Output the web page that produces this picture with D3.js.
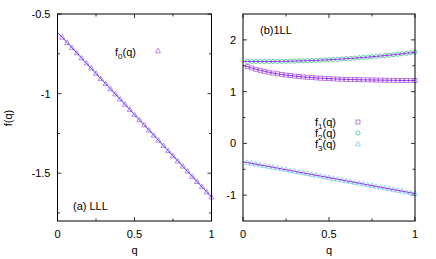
<!DOCTYPE html>
<html><head><meta charset="utf-8">
<script src="https://cdn.jsdelivr.net/npm/d3@7"></script>
<style>body{margin:0;background:#fff}svg{display:block}text{font-family:"Liberation Sans",Arial,sans-serif;fill:#000}</style>
</head><body><svg id="c" width="436" height="259"></svg>
<script>
// ---- data ----
const qLeft = [0.031,0.063,0.094,0.125,0.156,0.188,0.219,0.25,0.281,0.313,0.344,0.375,0.406,0.438,0.469,0.5,0.531,0.563,0.594,0.625,0.656,0.688,0.719,0.75,0.781,0.813,0.844,0.875,0.906,0.938,0.969,1];
const f0 = [-0.647,-0.680,-0.712,-0.744,-0.777,-0.809,-0.841,-0.874,-0.906,-0.938,-0.971,-1.003,-1.035,-1.068,-1.100,-1.133,-1.165,-1.197,-1.230,-1.262,-1.294,-1.327,-1.359,-1.391,-1.424,-1.456,-1.488,-1.521,-1.553,-1.585,-1.618,-1.650];
const fitQ0 = [0, 1];
const fit0 = [-0.615, -1.650];

const qRight = [0,0.025,0.05,0.075,0.1,0.125,0.15,0.175,0.2,0.225,0.25,0.275,0.3,0.325,0.35,0.375,0.4,0.425,0.45,0.475,0.5,0.525,0.55,0.575,0.6,0.625,0.65,0.675,0.7,0.725,0.75,0.775,0.8,0.825,0.85,0.875,0.9,0.925,0.95,0.975,1];
const f1 = [1.510,1.481,1.456,1.432,1.411,1.392,1.375,1.359,1.345,1.332,1.320,1.310,1.300,1.292,1.284,1.277,1.271,1.265,1.260,1.255,1.251,1.247,1.243,1.240,1.237,1.235,1.232,1.230,1.228,1.227,1.225,1.224,1.222,1.221,1.220,1.219,1.218,1.217,1.217,1.216,1.215];
const f2 = [1.585,1.584,1.583,1.583,1.582,1.582,1.583,1.583,1.584,1.585,1.587,1.588,1.590,1.593,1.595,1.598,1.601,1.604,1.608,1.612,1.616,1.621,1.626,1.631,1.636,1.642,1.648,1.654,1.660,1.667,1.674,1.681,1.689,1.697,1.705,1.714,1.722,1.731,1.741,1.750,1.760];
const f3 = [-0.355,-0.370,-0.386,-0.401,-0.417,-0.432,-0.447,-0.463,-0.478,-0.493,-0.509,-0.524,-0.540,-0.555,-0.570,-0.586,-0.601,-0.616,-0.632,-0.647,-0.663,-0.678,-0.693,-0.709,-0.724,-0.739,-0.755,-0.770,-0.786,-0.801,-0.816,-0.832,-0.847,-0.862,-0.878,-0.893,-0.909,-0.924,-0.939,-0.955,-0.970];

const xTicks = [0, 0.5, 1];
const xMinor = [0.25, 0.75];
const yTicksL = [-0.5, -1, -1.5];
const yMinorL = [-0.75, -1.25, -1.75];
const yTicksR = [2, 1, 0, -1];
const yMinorR = [1.5, 0.5, -0.5];

// ---- drawing ----
const svg = d3.select("#c");
const FS = 11;

function panel(x0, x1, y0, y1, ydom, yT, yM) {
  const x = d3.scaleLinear().domain([0,1]).range([x0,x1]);
  const y = d3.scaleLinear().domain(ydom).range([y1,y0]);
  const g = svg.append("g");
  const tick = (v, len) => {
    g.append("line").attr("x1",x(v)).attr("x2",x(v)).attr("y1",y1).attr("y2",y1-len).attr("stroke","#000").attr("stroke-width",0.8);
    g.append("line").attr("x1",x(v)).attr("x2",x(v)).attr("y1",y0).attr("y2",y0+len).attr("stroke","#000").attr("stroke-width",0.8);
  };
  xTicks.forEach(v=>{ tick(v,4); g.append("text").attr("x",x(v)).attr("y",y1+17).attr("text-anchor","middle").attr("font-size",FS).text(String(v)); });
  xMinor.forEach(v=>tick(v,2.5));
  const ytick = (v,len)=>{
    g.append("line").attr("x1",x0).attr("x2",x0+len).attr("y1",y(v)).attr("y2",y(v)).attr("stroke","#000").attr("stroke-width",0.8);
    g.append("line").attr("x1",x1).attr("x2",x1-len).attr("y1",y(v)).attr("y2",y(v)).attr("stroke","#000").attr("stroke-width",0.8);
  };
  yT.forEach(v=>{ ytick(v,4); g.append("text").attr("x",x0-7).attr("y",y(v)+4).attr("text-anchor","end").attr("font-size",FS).text(String(v)); });
  yM.forEach(v=>ytick(v,2.5));
  g.append("text").attr("x",(x0+x1)/2).attr("y",y1+33).attr("text-anchor","middle").attr("font-size",FS).text("q");
  return {g,x,y,x0,x1,y0,y1};
}

function tri(sel, cx, cy, s, col) {
  sel.append("path").attr("d",`M${cx},${cy-s*0.6}L${cx+s*0.55},${cy+s*0.4}L${cx-s*0.55},${cy+s*0.4}Z`)
    .attr("fill","none").attr("stroke",col).attr("stroke-width",0.8);
}
function sq(sel, cx, cy, s, col) {
  sel.append("rect").attr("x",cx-s/2).attr("y",cy-s/2).attr("width",s).attr("height",s)
    .attr("fill","none").attr("stroke",col).attr("stroke-width",0.8);
}
function circ(sel, cx, cy, r, col) {
  sel.append("circle").attr("cx",cx).attr("cy",cy).attr("r",r)
    .attr("fill","none").attr("stroke",col).attr("stroke-width",0.8);
}

const cTri0 = "#b466f0", cLine0 = "#4a4af5";
const c1 = "#b060e0", c2 = "#48b894", c3 = "#84c8f0", cLineR = "#9030f0";

// Left panel
const L = panel(57.5, 211.5, 14, 221, [-1.8, -0.5], yTicksL, yMinorL);
const lineL = d3.line().x(d=>L.x(d[0])).y(d=>L.y(d[1]));
f0.forEach((v,i)=>tri(L.g, L.x(qLeft[i]), L.y(v), 4.6, cTri0));
L.g.append("path").attr("d", lineL(d3.zip(fitQ0, fit0))).attr("fill","none").attr("stroke",cLine0).attr("stroke-width",1);
L.g.append("rect").attr("x",L.x0).attr("y",L.y0).attr("width",L.x1-L.x0).attr("height",L.y1-L.y0).attr("fill","none").attr("stroke","#000").attr("stroke-width",1);
L.g.append("text").attr("x",136).attr("y",56).attr("text-anchor","end").attr("font-size",FS)
  .html('f<tspan font-size="8" dy="3">0</tspan><tspan dy="-3">(q)</tspan>');
tri(L.g, 158, 51, 4.6, cTri0);
L.g.append("text").attr("x",73).attr("y",210).attr("font-size",FS).text("(a) LLL");
svg.append("text").attr("transform","translate(12,118) rotate(-90)").attr("text-anchor","middle").attr("font-size",FS).text("f(q)");

// Right panel
const R = panel(243, 415, 14, 221, [-1.5, 2.5], yTicksR, yMinorR);
const lineR = d3.line().x(d=>R.x(d[0])).y(d=>R.y(d[1])).curve(d3.curveMonotoneX);
qRight.forEach((q,i)=>{ if(q>0){ sq(R.g, R.x(q), R.y(f1[i]), 4, c1); circ(R.g, R.x(q), R.y(f2[i]), 2.1, c2); tri(R.g, R.x(q), R.y(f3[i]), 4.6, c3);} });
[f1,f2,f3].forEach(s=>R.g.append("path").attr("d", lineR(d3.zip(qRight, s))).attr("fill","none").attr("stroke",cLineR).attr("stroke-width",1));
R.g.append("rect").attr("x",R.x0).attr("y",R.y0).attr("width",R.x1-R.x0).attr("height",R.y1-R.y0).attr("fill","none").attr("stroke","#000").attr("stroke-width",1);
R.g.append("text").attr("x",260).attr("y",34).attr("font-size",FS).text("(b)1LL");
const leg = [["1",c1,sq,4],["2",c2,circ,2.1],["3",c3,tri,4.6]];
leg.forEach((d,i)=>{
  const yy = 126 + i*11;
  R.g.append("text").attr("x",336).attr("y",yy).attr("text-anchor","end").attr("font-size",FS)
    .html(`f<tspan font-size="8" dy="3">${d[0]}</tspan><tspan dy="-3">(q)</tspan>`);
  d[2](R.g, 358, yy-4, d[3], d[1]);
});
</script></body></html>
